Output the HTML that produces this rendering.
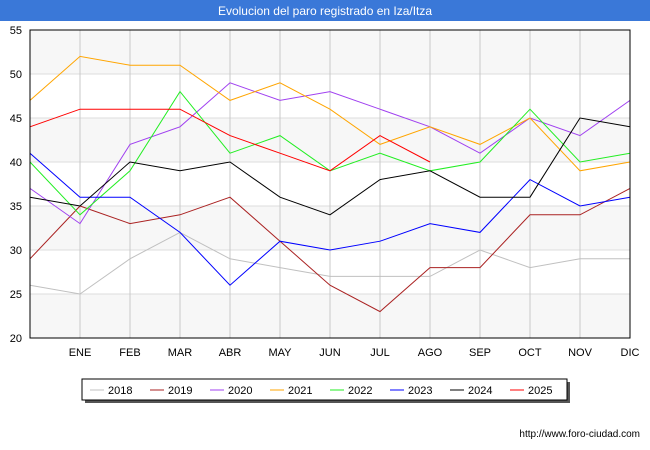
<!DOCTYPE html>
<html><head><meta charset="utf-8"><style>
body{margin:0;background:#fff;font-family:"Liberation Sans",sans-serif}
svg{display:block}
</style></head><body>
<svg width="650" height="450" xmlns="http://www.w3.org/2000/svg">
<rect x="0" y="0" width="650" height="450" fill="#fff"/>
<rect x="0" y="0" width="650" height="21" fill="#3a78d8"/>
<text x="325" y="15" text-anchor="middle" font-size="12" fill="#fff">Evolucion del paro registrado en Iza/Itza</text>
<g id="bands"></g><g id="grid"></g><g id="axes"></g><g id="series"></g>
<rect x="30" y="30" width="600" height="308" fill="none" stroke="#000" stroke-width="1"/>
<rect x="85" y="382" width="485" height="21" fill="#555"/>
<rect x="82" y="379" width="485" height="21" fill="#fff" stroke="#000"/>
<g id="legend"></g>
<text x="640" y="437" text-anchor="end" font-size="10" fill="#000">http://www.foro-ciudad.com</text>
</svg>
<script>
const months=["","ENE","FEB","MAR","ABR","MAY","JUN","JUL","AGO","SEP","OCT","NOV","DIC"];
const yTicks=[20,25,30,35,40,45,50,55];
const years=["2018","2019","2020","2021","2022","2023","2024","2025"];
const colors=["#c0c0c0","#aa2222","#a040f0","#ffa500","#22ee22","#0000ff","#000000","#ff0000"];
const s2018=[26,25,29,32,29,28,27,27,27,30,28,29,29];
const s2019=[29,35,33,34,36,31,26,23,28,28,34,34,37];
const s2020=[37,33,42,44,49,47,48,46,44,41,45,43,47];
const s2021=[47,52,51,51,47,49,46,42,44,42,45,39,40];
const s2022=[40,34,39,48,41,43,39,41,39,40,46,40,41];
const s2023=[41,36,36,32,26,31,30,31,33,32,38,35,36];
const s2024=[36,35,40,39,40,36,34,38,39,36,36,45,44];
const s2025=[44,46,46,46,43,41,39,43,40];
const seriesList=[s2018,s2019,s2020,s2021,s2022,s2023,s2024,s2025];
const NS="http://www.w3.org/2000/svg";
const X=i=>30+i*50;
const Y=v=>338-(v-20)*8.8;
function mk(t,a,p){const e=document.createElementNS(NS,t);for(const k in a)e.setAttribute(k,a[k]);p.appendChild(e);return e;}
const bands=document.getElementById('bands'),grid=document.getElementById('grid'),axes=document.getElementById('axes'),ser=document.getElementById('series'),leg=document.getElementById('legend');
for(let i=0;i<yTicks.length-1;i++){
 const r=mk('rect',{x:30,y:Y(yTicks[i+1]),width:600,height:Y(yTicks[i])-Y(yTicks[i+1]),fill:(i%2==0)?'#f7f7f7':'#ffffff'},bands);
 
 
}
yTicks.forEach(v=>{
 const l=mk('line',{x1:30,x2:630,y1:Y(v),y2:Y(v),stroke:'#ddd'},grid);
 
 
 const t=mk('text',{x:22,y:Y(v)+4,'text-anchor':'end','font-size':11},axes);t.textContent=v;
 
 
});
months.forEach((m,i)=>{
 const l=mk('line',{x1:X(i),x2:X(i),y1:30,y2:338,stroke:'#c8c8c8'},grid);
 
 
 if(m){const t=mk('text',{x:X(i),y:356,'text-anchor':'middle','font-size':11},axes);t.textContent=m;
 
 }
});
seriesList.forEach((s,k)=>{
 const p=mk('polyline',{points:s.map((v,i)=>X(i)+','+Y(v)).join(' '),fill:'none',stroke:colors[k],'stroke-width':1},ser);
 
 
});
years.forEach((y,k)=>{
 const x0=90+k*60;
 const l=mk('line',{x1:x0,x2:x0+14,y1:390,y2:390,stroke:colors[k],'stroke-width':1},leg);
 
 
 const t=mk('text',{x:x0+18,y:394,'font-size':11},leg);t.textContent=y;
 
 
});
</script>
</body></html>
